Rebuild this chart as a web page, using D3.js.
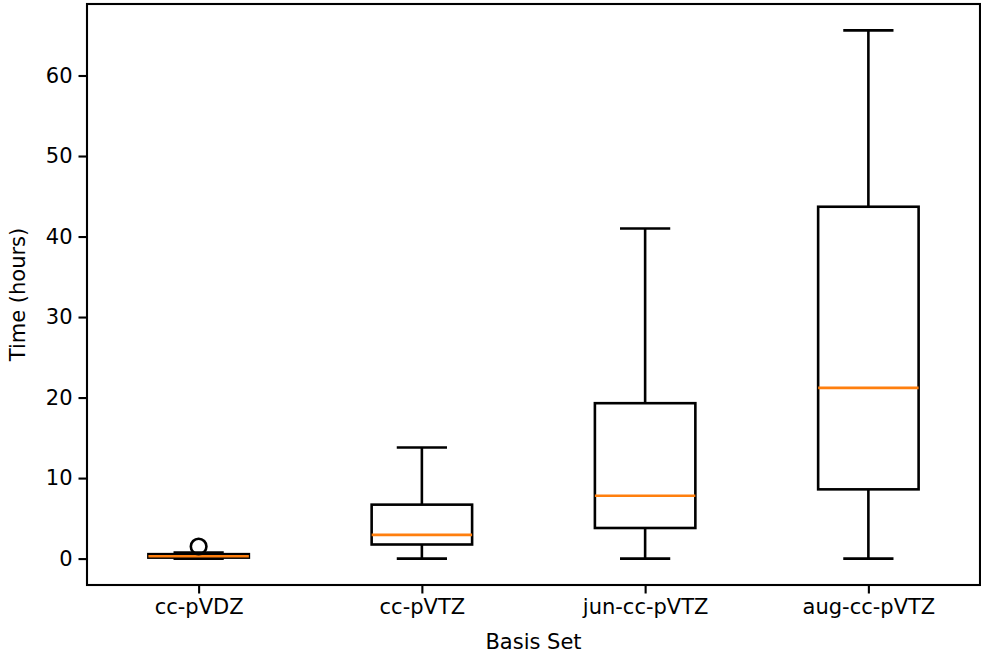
<!DOCTYPE html>
<html>
<head>
<meta charset="utf-8">
<script src="https://cdn.jsdelivr.net/npm/d3@7"></script>
<style>
body { margin:0; background:#fff; }
svg { display:block; }
text { font-family:"DejaVu Sans", sans-serif; }
</style>
</head>
<body>
<script>
// categorias
var basisSets = ["cc-pVDZ","cc-pVTZ","jun-cc-pVTZ","aug-cc-pVTZ"];
// estatisticas das caixas (horas)
var whiskerLow  = [0.0, 0.0, 0.0, 0.0];
var q1          = [0.12, 1.75, 3.8, 8.6];
var medians     = [0.3, 2.95, 7.8, 21.2];
var q3          = [0.55, 6.7, 19.3, 43.7];
var whiskerHigh = [0.75, 13.8, 41.0, 65.6];
var outliers    = [[1.5], [], [], []];
var yTicks = [0,10,20,30,40,50,60];

var w = 981;
var h = 653;
var pLeft = 87, pRight = 980, pTop = 4, pBottom = 585;
var lw = 2.6;

var data = basisSets.map(function(b,i){
  return {name:b, pos:i+1, lo:whiskerLow[i], q1:q1[i], med:medians[i], q3:q3[i], hi:whiskerHigh[i], out:outliers[i]};
});

//escalas
var xScale = d3.scaleLinear().domain([0.5,4.5]).range([pLeft,pRight]);
var ymin = d3.min(whiskerLow), ymax = d3.max(whiskerHigh);
var m = (ymax-ymin)*0.05;
var yScale = d3.scaleLinear().domain([ymin-m, ymax+m]).range([pBottom,pTop]);

var boxW = xScale(0.45) - xScale(0);
var capW = boxW/2;

var svg = d3.select("body").append("svg");
svg.attr("width",w).attr("height",h);

var g = svg.selectAll("g.box")
  .data(data)
  .enter()
  .append("g")
  .attr("class","box");

// whiskers
g.append("line")
  .attr("x1",function(d){return xScale(d.pos);})
  .attr("x2",function(d){return xScale(d.pos);})
  .attr("y1",function(d){return yScale(d.lo);})
  .attr("y2",function(d){return yScale(d.q1);})
  .attr("stroke","black").attr("stroke-width",lw);
g.append("line")
  .attr("x1",function(d){return xScale(d.pos);})
  .attr("x2",function(d){return xScale(d.pos);})
  .attr("y1",function(d){return yScale(d.q3);})
  .attr("y2",function(d){return yScale(d.hi);})
  .attr("stroke","black").attr("stroke-width",lw);
// caps
["lo","hi"].forEach(function(k){
  g.append("line")
    .attr("x1",function(d){return xScale(d.pos)-capW/2;})
    .attr("x2",function(d){return xScale(d.pos)+capW/2;})
    .attr("y1",function(d){return yScale(d[k]);})
    .attr("y2",function(d){return yScale(d[k]);})
    .attr("stroke","black").attr("stroke-width",lw);
});
// caixa
g.append("rect")
  .attr("x",function(d){return xScale(d.pos)-boxW/2;})
  .attr("y",function(d){return yScale(d.q3);})
  .attr("width",boxW)
  .attr("height",function(d){return yScale(d.q1)-yScale(d.q3);})
  .attr("fill","none")
  .attr("stroke","black").attr("stroke-width",lw);
// mediana
g.append("line")
  .attr("x1",function(d){return xScale(d.pos)-boxW/2;})
  .attr("x2",function(d){return xScale(d.pos)+boxW/2;})
  .attr("y1",function(d){return yScale(d.med);})
  .attr("y2",function(d){return yScale(d.med);})
  .attr("stroke","#ff7f0e").attr("stroke-width",lw);
// outliers
g.selectAll("circle")
  .data(function(d){return d.out.map(function(v){return {pos:d.pos,v:v};});})
  .enter()
  .append("circle")
  .attr("cx",function(d){return xScale(d.pos);})
  .attr("cy",function(d){return yScale(d.v);})
  .attr("r",7.8)
  .attr("fill","none")
  .attr("stroke","black").attr("stroke-width",lw);

//axes
var xAxis = d3.axisBottom(xScale)
  .tickValues(data.map(function(d){return d.pos;}))
  .tickFormat(function(v){return basisSets[v-1];})
  .tickSize(8.5).tickPadding(6);
var yAxis = d3.axisLeft(yScale)
  .tickValues(yTicks).tickSize(8.5).tickPadding(6);

var gx = svg.append("g").attr("transform","translate(0,"+pBottom+")").call(xAxis);
var gy = svg.append("g").attr("transform","translate("+pLeft+",0)").call(yAxis);
[gx,gy].forEach(function(a){
  a.select(".domain").remove();
  a.selectAll(".tick line").attr("stroke","black").attr("stroke-width",2.1);
  a.selectAll(".tick text").attr("font-size","21px").attr("fill","black")
    .attr("font-family","DejaVu Sans");
});

// moldura
svg.append("rect")
  .attr("x",pLeft).attr("y",pTop)
  .attr("width",pRight-pLeft).attr("height",pBottom-pTop)
  .attr("fill","none").attr("stroke","black").attr("stroke-width",2.1);

svg.append("text")
  .text("Basis Set")
  .attr("x",(pLeft+pRight)/2).attr("y",649)
  .attr("text-anchor","middle")
  .attr("font-size","21px");

svg.append("text")
  .text("Time (hours)")
  .attr("transform","translate(25,"+((pTop+pBottom)/2)+") rotate(-90)")
  .attr("text-anchor","middle")
  .attr("font-size","21px");
</script>
</body>
</html>
